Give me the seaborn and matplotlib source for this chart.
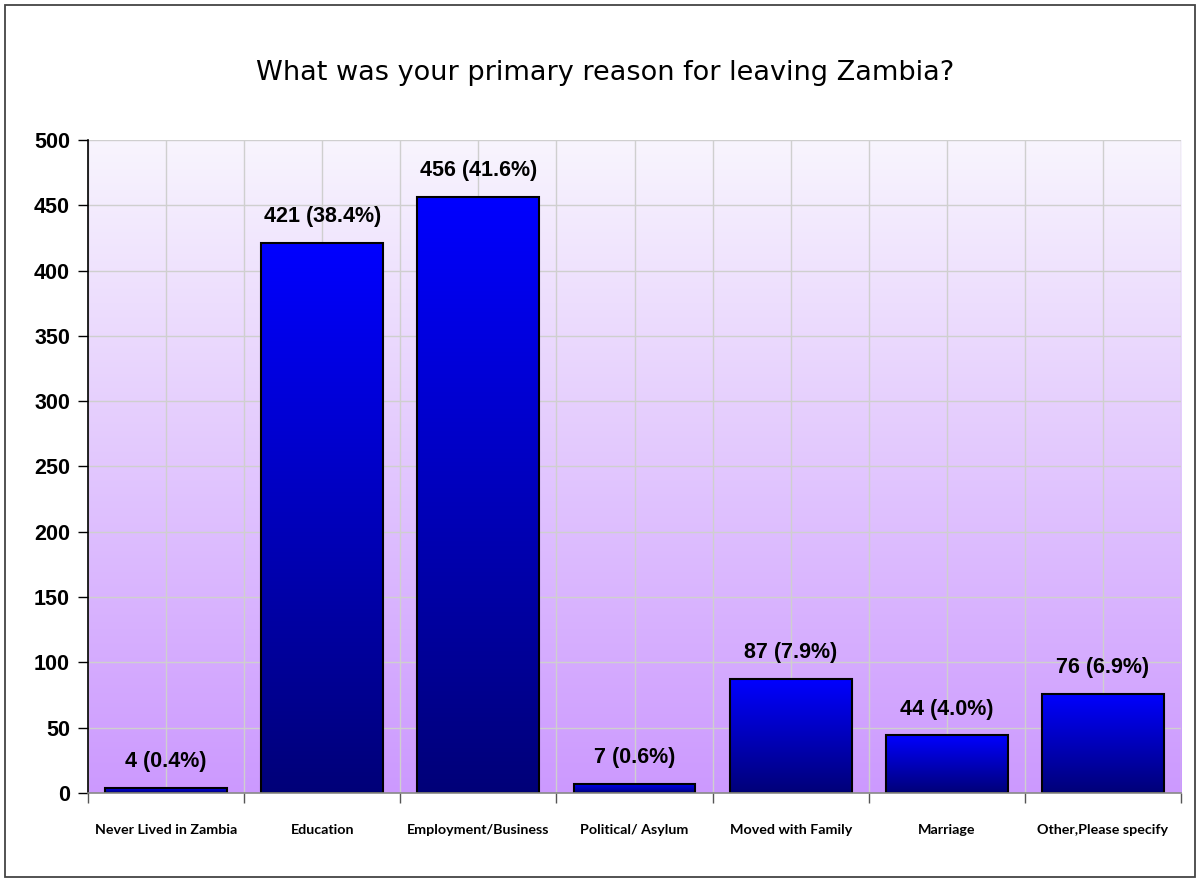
import numpy as np
import pandas as pd
import matplotlib
matplotlib.use("Agg")
import matplotlib.pyplot as plt
from matplotlib.colors import LinearSegmentedColormap
from matplotlib.patches import Rectangle
import seaborn as sns

# donnees
reasons = ["Never Lived in Zambia", "Education", "Employment/Business",
           "Political/ Asylum", "Moved with Family", "Marriage",
           "Other,Please specify"]
counts = [4, 421, 456, 7, 87, 44, 76]
pcts = [0.4, 38.4, 41.6, 0.6, 7.9, 4.0, 6.9]

df = pd.DataFrame({"reason": reasons, "count": counts})

sns.set_style("white")
plt.rcParams["font.family"] = ["Liberation Sans", "DejaVu Sans"]
plt.rcParams["text.color"] = "black"
plt.rcParams["xtick.labelcolor"] = "black"
plt.rcParams["ytick.labelcolor"] = "black"

fig = plt.figure(figsize=(11.99, 8.8), dpi=100)
ax = fig.add_axes([0.0734, 0.0989, 0.9116, 0.7421])

sns.barplot(data=df, x="reason", y="count", width=0.78, color="blue",
            edgecolor="black", linewidth=1.5, ax=ax)

# fond en degrade (blanc -> lavande)
bg_cmap = LinearSegmentedColormap.from_list("bg", ["#CC99FF", "#F8F5FD"])
bg = np.linspace(1, 0, 256).reshape(-1, 1)
ax.imshow(bg, extent=[-0.5, 6.5, 0, 500], aspect="auto", cmap=bg_cmap,
          zorder=0, interpolation="bicubic")

# degrade dans chaque barre (bleu en haut, marine en bas)
bar_cmap = LinearSegmentedColormap.from_list("bar", ["#000078", "#0000FF"])
grad = np.linspace(1, 0, 256).reshape(-1, 1)
for p in ax.patches:
    x0, w, h = p.get_x(), p.get_width(), p.get_height()
    ax.imshow(grad, extent=[x0, x0 + w, 0, h], aspect="auto", cmap=bar_cmap,
              zorder=1.5, interpolation="bicubic")
    p.set_facecolor("none")
    p.set_zorder(2)

# etiquettes des barres
for i, (c, pc) in enumerate(zip(counts, pcts)):
    ax.annotate(f"{c} ({pc:.1f}%)", xy=(i, c), xytext=(0, 19),
                textcoords="offset points", ha="center", va="center",
                fontsize=15.5, fontweight="bold", color="black")

ax.set_xlim(-0.5, 6.5)
ax.set_ylim(0, 500)
ax.set_yticks(np.arange(0, 501, 50))
ax.set_xticks(np.arange(-0.5, 7, 1), minor=True)

ax.set_axisbelow(True)
ax.grid(True, which="both", color="#CFCFCF", linewidth=1)

ax.tick_params(axis="y", which="major", direction="out", length=7,
               width=1, color="black", labelsize=15.5, pad=6, left=True)
for lab in ax.get_yticklabels():
    lab.set_fontweight("bold")
ax.tick_params(axis="x", which="major", length=0, pad=22)
ax.tick_params(axis="x", which="minor", direction="out", length=7,
               width=1, color="#555555", bottom=True)
for lab in ax.get_xticklabels():
    lab.set_fontfamily(["Lato", "DejaVu Sans"])
    lab.set_fontweight("bold")
    lab.set_fontsize(10.3)

ax.set_xlabel("")
ax.set_ylabel("")

for s in ["top", "right"]:
    ax.spines[s].set_visible(False)
ax.spines["left"].set_color("black")
ax.spines["left"].set_linewidth(1.2)
ax.spines["bottom"].set_color("#888888")
ax.spines["bottom"].set_linewidth(1.2)

fig.text(0.505, 0.917, "What was your primary reason for leaving Zambia?",
         ha="center", va="center", fontsize=19.5, family="DejaVu Sans",
         color="black")

# cadre autour de la figure
fig.patches.append(Rectangle((0.004, 0.003), 0.993, 0.991, fill=False,
                             edgecolor="#444444", linewidth=1.3,
                             transform=fig.transFigure, figure=fig))

fig.savefig("out.png", dpi=100)
